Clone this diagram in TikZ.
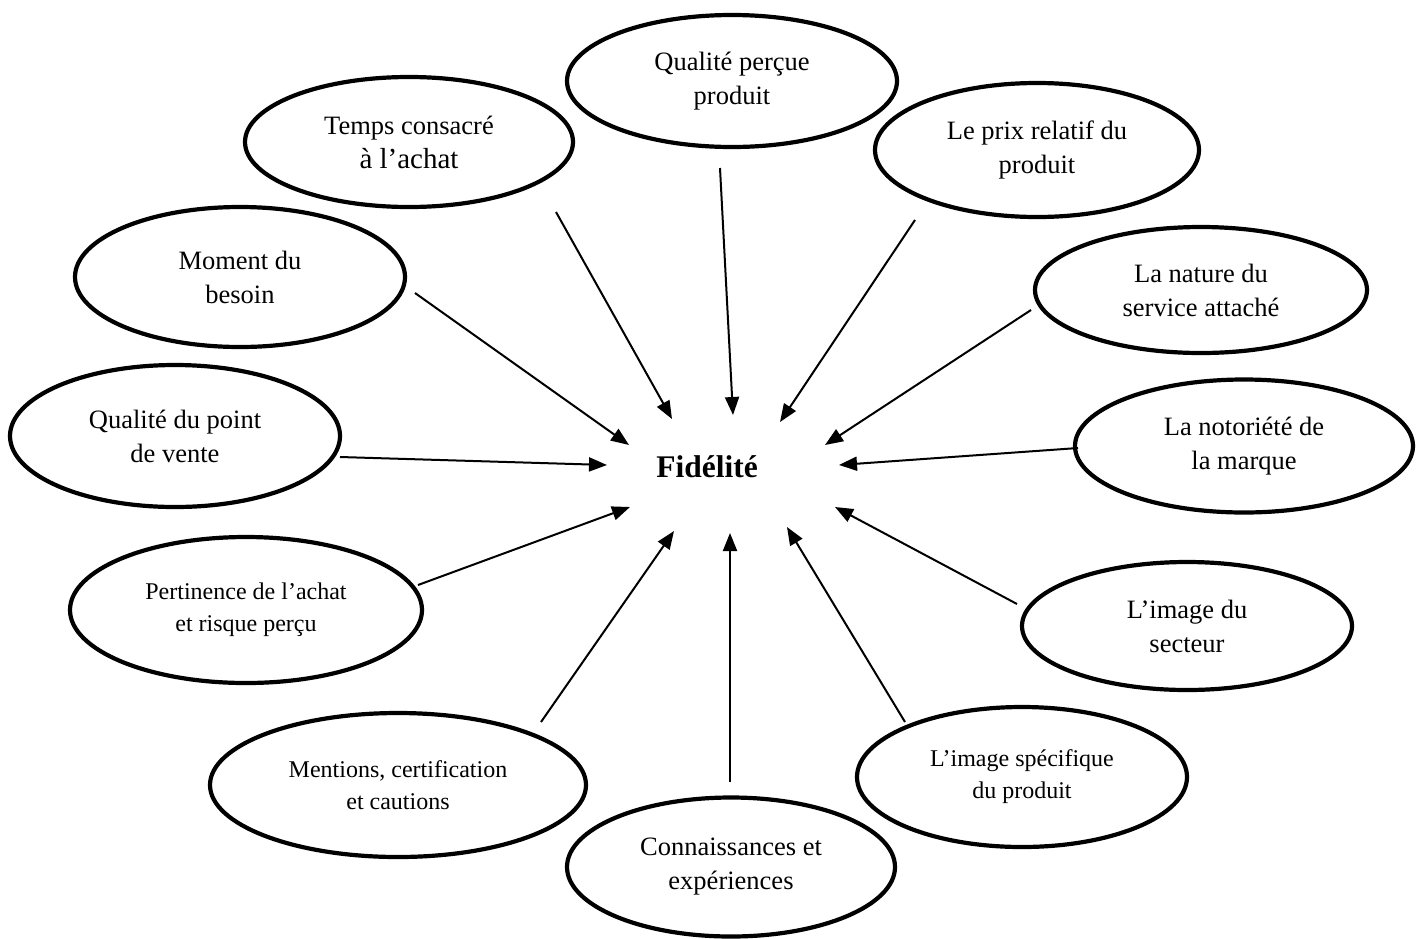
\documentclass[tikz,border=0pt]{standalone}
\usepackage{fontspec}
\setmainfont{Liberation Serif}
\usetikzlibrary{shapes.geometric,arrows.meta}
\begin{document}
\begin{tikzpicture}[x=1pt,y=-1pt,
  ell/.style={draw=black,line width=4.2pt,ellipse,inner sep=0pt,align=center,font=\fontsize{26.5}{34}\selectfont},
  sm/.style={font=\fontsize{24}{32}\selectfont},
  arr/.style={line width=2pt,-{Triangle[length=18pt,width=14pt]}}
]
\useasboundingbox (0,0) rectangle (1421,938);
\fill[white] (0,0) rectangle (1421,938);

% ellipses
\node[ell,minimum width=330pt,minimum height=132pt] (qp) at (732,81) {Qualité perçue\\produit};
\node[ell,minimum width=328pt,minimum height=130pt] (tc) at (409,142) {Temps consacré\\{\fontsize{29}{34}\selectfont à l’achat}};
\node[ell,minimum width=324pt,minimum height=134pt] (pr) at (1037,150) {Le prix relatif du\\produit};
\node[ell,minimum width=330pt,minimum height=140pt] (mb) at (240,277) {Moment du\\besoin};
\node[ell,minimum width=332pt,minimum height=126pt] (ns) at (1201,290) {La nature du\\service attaché};
\node[ell,minimum width=330pt,minimum height=142pt] (qv) at (175,436) {Qualité du point\\de vente};
\node[ell,minimum width=338pt,minimum height=133pt] (nm) at (1244,446) {La notoriété de\\la marque};
\node[ell,sm,minimum width=352pt,minimum height=146pt] (pa) at (246,610) {Pertinence de l’achat\\et risque perçu};
\node[ell,minimum width=330pt,minimum height=128pt] (is) at (1187,626) {L’image du\\secteur};
\node[ell,sm,minimum width=376pt,minimum height=144pt] (mc) at (398,785) {Mentions, certification\\et cautions};
\node[ell,sm,minimum width=330pt,minimum height=140pt] (ip) at (1022,777) {L’image spécifique\\du produit};
\node[ell,minimum width=328pt,minimum height=139pt] (ce) at (731,867) {Connaissances et\\expériences};

% centre
\node[font=\fontsize{31.5}{36}\selectfont\bfseries,inner sep=0pt] (fid) at (707,467) {Fidélité};

% arrow end points
\coordinate (s1) at (720,168);  \coordinate (e1) at (733,415);
\coordinate (s2) at (556,212);  \coordinate (e2) at (672,419);
\coordinate (s3) at (915,220);  \coordinate (e3) at (780,422);
\coordinate (s4) at (415,293);  \coordinate (e4) at (629,445);
\coordinate (s5) at (1031,310); \coordinate (e5) at (825,445);
\coordinate (s6) at (340,457);  \coordinate (e6) at (607,465);
\coordinate (s7) at (1078,448); \coordinate (e7) at (839,465);
\coordinate (s8) at (418,585);  \coordinate (e8) at (630,507);
\coordinate (s9) at (1017,604); \coordinate (e9) at (835,507);
\coordinate (s10) at (541,722); \coordinate (e10) at (674,531);
\coordinate (s11) at (730,782); \coordinate (e11) at (730,533);
\coordinate (s12) at (905,722); \coordinate (e12) at (787,527);

\foreach \i in {1,...,12} {\draw[arr] (s\i) -- (e\i);}
\end{tikzpicture}
\end{document}
